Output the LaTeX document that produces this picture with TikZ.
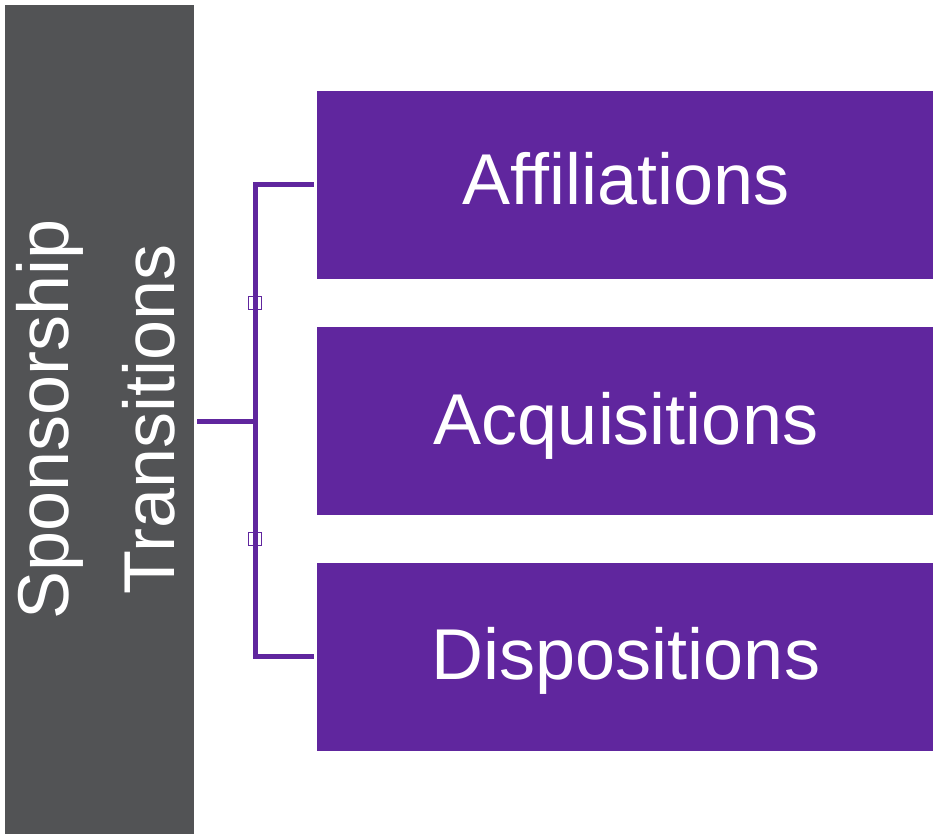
\documentclass[tikz,border=0pt]{standalone}
\usepackage{fontspec}
\setmainfont{Liberation Sans}
\definecolor{pp}{HTML}{60269E}
\definecolor{gr}{HTML}{525355}
\begin{document}
\begin{tikzpicture}[x=1pt,y=-1pt,
  graybox/.style={rectangle,fill=gr,draw=none,inner sep=0pt,minimum width=189pt,minimum height=829pt},
  purplebox/.style={rectangle,fill=pp,draw=none,inner sep=0pt,minimum width=616pt,minimum height=188pt},
  lbl/.style={text=white,inner sep=0pt,font=\fontsize{72}{106}\selectfont},
  conn/.style={draw=pp,line width=5pt},
  sq/.style={rectangle,draw=pp,line width=1.4pt,minimum width=13pt,minimum height=13pt,inner sep=0pt}]
\useasboundingbox (0,0) rectangle (933,834);
\fill[white] (0,0) rectangle (933,834);
\node[graybox] (sp) at (99.5,419.5) {};
\node[lbl,rotate=90,align=center] (spt) at (95.5,419.5) {Sponsorship\\Transitions};
\node[purplebox] (b1) at (625,185) {};
\node[purplebox] (b2) at (625,421) {};
\node[purplebox] (b3) at (625,656.5) {};
\node[lbl,anchor=base] (t1) at ([yshift=-20pt,xshift=1pt]b1.center) {Affiliations};
\node[lbl,anchor=base] (t2) at ([yshift=-23pt,xshift=1pt]b2.center) {Acquisitions};
\node[lbl,anchor=base] (t3) at ([yshift=-22.5pt,xshift=1pt]b3.center) {Dispositions};
\coordinate (j) at (255,421);
\draw[conn] ([xshift=3pt]sp.east |- b2.center) -- (j);
\draw[conn] ([xshift=-3pt]b1.west) -| (j |- b3.west) -- ([xshift=-3pt]b3.west);
\node[sq] (m1) at (255,303) {};
\node[sq] (m2) at (255,539) {};
\end{tikzpicture}
\end{document}
